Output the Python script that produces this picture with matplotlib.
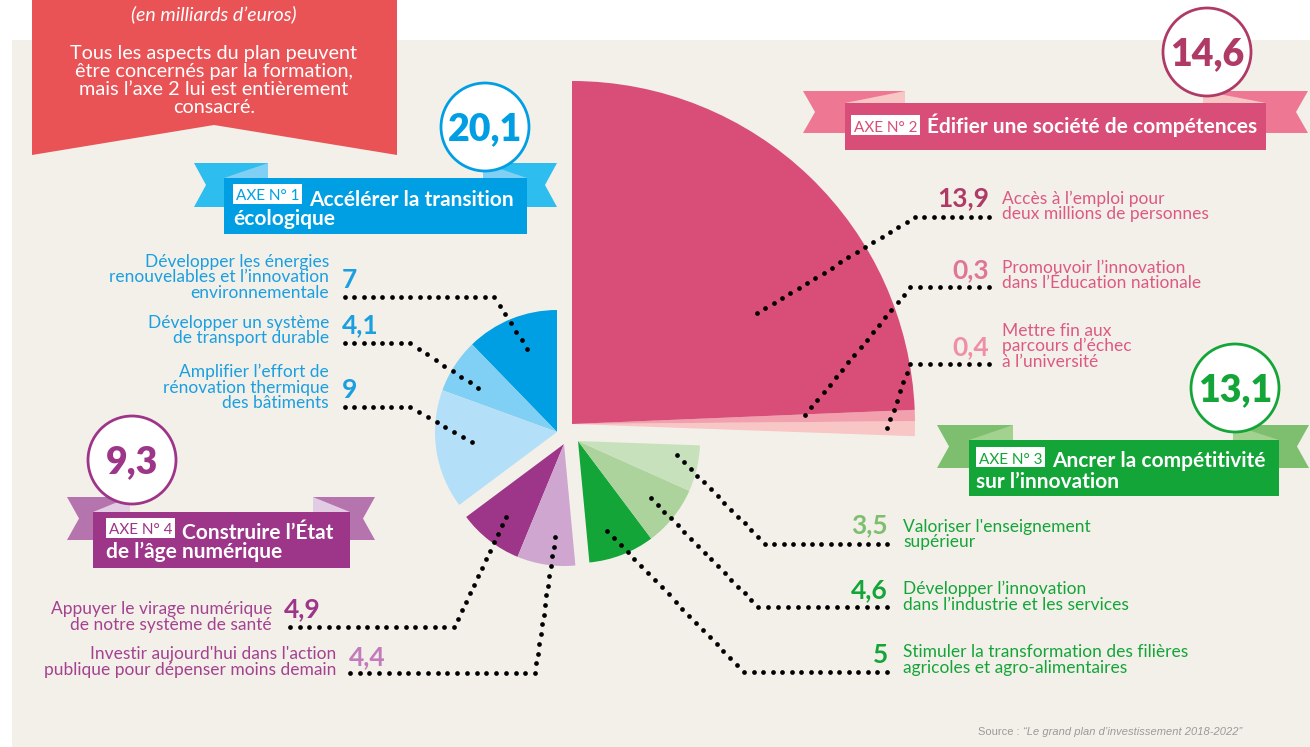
import numpy as np
import matplotlib.pyplot as plt
from matplotlib.patches import Wedge, Circle, Polygon, Rectangle

plt.rcParams['font.family'] = ['Lato', 'DejaVu Sans']

# montants en milliards d'euros, dans l'ordre de lecture des légendes
axe1_labels = ["Développer les énergies\nrenouvelables et l’innovation\nenvironnementale",
               "Développer un système\nde transport durable",
               "Amplifier l’effort de\nrénovation thermique\ndes bâtiments"]
axe1_values = [7, 4.1, 9]
axe2_labels = ["Accès à l’emploi pour\ndeux millions de personnes",
               "Promouvoir l’innovation\ndans l’Éducation nationale",
               "Mettre fin aux\nparcours d’échec\nà l’université"]
axe2_values = [13.9, 0.3, 0.4]
axe3_labels = ["Valoriser l'enseignement\nsupérieur",
               "Développer l’innovation\ndans l’industrie et les services",
               "Stimuler la transformation des filières\nagricoles et agro-alimentaires"]
axe3_values = [3.5, 4.6, 5]
axe4_labels = ["Appuyer le virage numérique\nde notre système de santé",
               "Investir aujourd'hui dans l'action\npublique pour dépenser moins demain"]
axe4_values = [4.9, 4.4]
axe_titles = [("Accélérer la transition", "écologique"),
              ("Édifier une société de compétences", ""),
              ("Ancrer la compétitivité", "sur l’innovation"),
              ("Construire l’État", "de l’âge numérique")]

blues = ['#009fe3', '#80cff4', '#b3e0f8']
pinks = ['#d84e78', '#f2a0ae', '#f8c6c5']
greens = ['#c8e1bd', '#acd39c', '#14a538']
purples = ['#9d3589', '#cfa6d0']

W, H = 1310, 747
fig = plt.figure(figsize=(W / 100, H / 100), dpi=100)
ax = fig.add_axes([0, 0, 1, 1])
ax.set_xlim(0, W)
ax.set_ylim(H, 0)
ax.axis('off')


def fr(v):
    return f"{round(v, 1):g}".replace('.', ',')


def block(x, y, text, color, ha, size=12.5, dy=16, **kw):
    for i, line in enumerate(text.split('\n')):
        ax.text(x, y + i * dy, line, color=color, ha=ha, va='baseline', fontsize=size, **kw)


def dots(path, step=9.6):
    pts = []
    for (x0, y0), (x1, y1) in zip(path[:-1], path[1:]):
        n = max(1, int(round(np.hypot(x1 - x0, y1 - y0) / step)))
        for i in range(n):
            pts.append((x0 + (x1 - x0) * i / n, y0 + (y1 - y0) * i / n))
    pts.append(path[-1])
    xs, ys = zip(*pts)
    ax.plot(xs, ys, 'o', ms=3.4, color='black', mec='none', zorder=5)


# fond
ax.add_patch(Rectangle((12, 40), W - 12, H - 40, color='#f3f0ea', lw=0, zorder=0))
ax.add_patch(Polygon([(32, 0), (397, 0), (397, 155), (214, 125), (32, 155)],
                     color='#e95356', lw=0, zorder=1))
ax.text(214, 20, "(en milliards d’euros)", color='white', ha='center', va='baseline',
        fontsize=14, style='italic')
intro = ["Tous les aspects du plan peuvent", "être concernés par la formation,",
         "mais l’axe 2 lui est entièrement", "consacré."]
block(214, 59, "\n".join(intro), 'white', 'center', size=14.3, dy=18)

# camembert : angles proportionnels aux montants, rayons par axe
grand_total = sum(axe1_values) + sum(axe2_values) + sum(axe3_values) + sum(axe4_values)
groups = [(axe1_values, blues, (557, 432), 122),
          (axe4_values, purples, (564, 444), 122),
          (axe3_values[::-1], greens[::-1], (578, 441), 122),
          (axe2_values[::-1], pinks[::-1], (572, 424), 343)]
start = 90.0
for vals, cols, c, r in groups:
    for v, col in zip(vals, cols):
        span = v * 360 / grand_total
        ax.add_patch(Wedge(c, r, -(start + span), -start, fc=col, ec='none', zorder=2))
        start += span

# rubans des axes
ribbons = [
    dict(rect=(224, 178, 527, 234), main='#009fe3', tail='#2dbdee', fold='#80cff4',
         ty=(163, 207), lx=(194, 268), rx=(483, 557)),
    dict(rect=(845, 103, 1266, 150), main='#d84e78', tail='#ee7893', fold='#f8c6c5',
         ty=(91, 133), lx=(803, 905), rx=(1203, 1308)),
    dict(rect=(969, 440, 1279, 496), main='#14a538', tail='#7dbf6f', fold='#a3d18f',
         ty=(425, 468), lx=(937, 1013), rx=(1233, 1309)),
    dict(rect=(93, 512, 350, 568), main='#9d3589', tail='#b574ae', fold='#e2cce4',
         ty=(497, 540), lx=(67, 130), rx=(313, 375)),
]
for rb in ribbons:
    x0, y0, x1, y1 = rb['rect']
    t0, t1 = rb['ty']
    tm = (t0 + t1) / 2
    a, b = rb['lx']
    ax.add_patch(Polygon([(a, t0), (b, t0), (b, t1), (a, t1), (a + 12, tm)],
                         color=rb['tail'], lw=0, zorder=3))
    ax.add_patch(Polygon([(x0, y0), (b, t0), (b, y0)], color=rb['fold'], lw=0, zorder=3))
    a, b = rb['rx']
    ax.add_patch(Polygon([(a, t0), (b, t0), (b - 12, tm), (b, t1), (a, t1)],
                         color=rb['tail'], lw=0, zorder=3))
    ax.add_patch(Polygon([(a, t0), (x1, y0), (a, y0)], color=rb['fold'], lw=0, zorder=3))
    ax.add_patch(Rectangle((x0, y0), x1 - x0, y1 - y0, color=rb['main'], lw=0, zorder=4))

# titres des axes
title_pos = [(233, 184, 206, 225), (851, 115, 133, None), (976, 447, 467, 488), (106, 518, 539, 558)]
for k, ((bx, by, base1, base2), (l1, l2), rb) in enumerate(zip(title_pos, axe_titles, ribbons)):
    ax.add_patch(Rectangle((bx, by), 69, 20, color='white', lw=0, zorder=5))
    ax.text(bx + 34.5, by + 16.5, f"AXE N° {k + 1}", color=rb['main'], ha='center',
            va='baseline', fontsize=11, zorder=6)
    ax.text(bx + 76, base1, l1, color='white', ha='left', va='baseline', fontsize=15,
            fontweight='bold', zorder=6)
    if l2:
        ax.text(bx, base2, l2, color='white', ha='left', va='baseline', fontsize=15,
                fontweight='bold', zorder=6)

# pastilles des totaux
badges = [((485, 127), axe1_values, '#009fe3'), ((1207, 52), axe2_values, '#b03a66'),
          ((1235, 388), axe3_values, '#14a538'), ((132, 460), axe4_values, '#9d3589')]
for (cx, cy), vals, col in badges:
    ax.add_patch(Circle((cx, cy), 44, fc='white', ec=col, lw=2, zorder=7))
    ax.text(cx, cy + 13, fr(sum(vals)), color=col, ha='center', va='baseline',
            fontsize=27, fontweight='heavy', zorder=8)

# légendes détaillées
num_size = 19
# axe 1 (à gauche)
axe1_pos = [(267, 288), (328, 333), (377, 398)]
for (ty, ny), lab, v in zip(axe1_pos, axe1_labels, axe1_values):
    block(329, ty, lab, '#1a9fe0', 'right', dy=15.5)
    ax.text(342, ny, fr(v), color='#1a9fe0', ha='left', va='baseline', fontsize=num_size,
            fontweight='bold')
# axe 2 (à droite)
axe2_pos = [(204, 206), (273, 278), (336, 355)]
axe2_num_cols = ['#b03a66', '#e07596', '#ef8fa5']
for (ty, ny), lab, v, col in zip(axe2_pos, axe2_labels, axe2_values, axe2_num_cols):
    block(1002, ty, lab, '#dc5a82', 'left', dy=15.5)
    ax.text(989, ny, fr(v), color=col, ha='right', va='baseline', fontsize=num_size,
            fontweight='bold')
# axe 3 (en bas à droite)
axe3_pos = [(532, 533), (594, 598), (657, 663)]
axe3_num_cols = ['#7dbf6f', '#14a538', '#14a538']
for (ty, ny), lab, v, col in zip(axe3_pos, axe3_labels, axe3_values, axe3_num_cols):
    block(903, ty, lab, '#14a538', 'left', dy=15.5)
    ax.text(888, ny, fr(v), color=col, ha='right', va='baseline', fontsize=num_size,
            fontweight='bold')
# axe 4 (en bas à gauche)
axe4_pos = [(272, 614, 284, 617), (336, 659, 349, 665)]
axe4_num_cols = ['#9d3589', '#c27bbb']
for (tx, ty, nx, ny), lab, v, col in zip(axe4_pos, axe4_labels, axe4_values, axe4_num_cols):
    block(tx, ty, lab, '#a4428f', 'right', dy=16)
    ax.text(nx, ny, fr(v), color=col, ha='left', va='baseline', fontsize=num_size,
            fontweight='bold')

# traits pointillés
leaders = [
    [(345, 297), (494, 297), (527, 349)],
    [(345, 343), (410, 343), (478, 388)],
    [(345, 407), (410, 407), (472, 442)],
    [(989, 217), (915, 217), (757, 313)],
    [(989, 287), (910, 287), (805, 415)],
    [(989, 364), (910, 364), (887, 428)],
    [(887, 544), (765, 544), (677, 455)],
    [(887, 607), (758, 607), (651, 498)],
    [(887, 672), (744, 672), (607, 531)],
    [(290, 627), (454, 627), (506, 517)],
    [(350, 673), (535, 673), (555, 537)],
]
for p in leaders:
    dots(p)

src = ax.text(978, 735, "Source : ", color='#9a9a9a', ha='left', va='baseline',
              fontsize=8, family='Liberation Sans')
ax.annotate("“Le grand plan d’investissement 2018-2022”", xy=(1, 0), xycoords=src,
            va='bottom', ha='left', color='#9a9a9a', fontsize=8, style='italic',
            family='Liberation Sans')

fig.savefig('out.png', dpi=100, facecolor='white')
